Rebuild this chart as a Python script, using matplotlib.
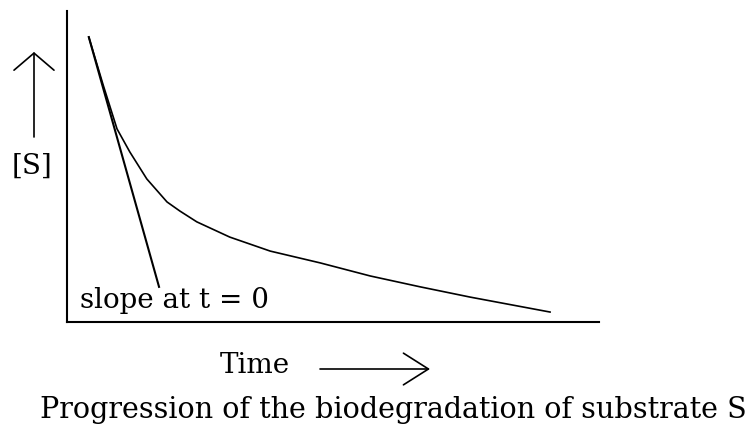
import numpy as np
import matplotlib
matplotlib.use("Agg")
import matplotlib.pyplot as plt

# substrate concentration [S] against time (arbitrary units)
time = [0.41, 0.68, 0.94, 1.18, 1.50, 1.88, 2.12, 2.44, 3.06, 3.82, 4.76, 5.70, 6.64, 7.58, 9.08]
conc = [9.16, 7.62, 6.21, 5.47, 4.60, 3.86, 3.57, 3.22, 2.73, 2.28, 1.90, 1.48, 1.13, 0.80, 0.32]

# tangent at t = 0
tan_t = [0.41, 1.73]
tan_s = [9.16, 1.13]

title = "Progression of the biodegradation of substrate S"
xlabel = "Time"
ylabel = "[S]"
note = "slope at t = 0"

plt.rcParams['font.family'] = ['DejaVu Serif']

W, H = 753, 427
fig = plt.figure(figsize=(W / 100, H / 100), dpi=100)
ax = fig.add_axes([67 / W, (H - 323) / H, 532 / W, 311 / H])
ax.set_xlim(0, 10)
ax.set_ylim(0, 10)
ax.spines['top'].set_visible(False)
ax.spines['right'].set_visible(False)
ax.spines['left'].set_linewidth(1.5)
ax.spines['bottom'].set_linewidth(1.5)
ax.set_xticks([])
ax.set_yticks([])

ax.plot(time, conc, color='black', lw=1.2)
ax.plot(tan_t, tan_s, color='black', lw=1.5)

# labels and arrows (figure pixels, origin bottom-left)
arw_y = dict(arrowstyle='->,head_length=0.41,head_width=0.48', color='black',
             lw=1.2, mutation_scale=30, shrinkA=0, shrinkB=0)
arw_x = dict(arrowstyle='->,head_length=0.6,head_width=0.38', color='black',
             lw=1.2, mutation_scale=30, shrinkA=0, shrinkB=0)
fig.text(32, H - 166, ylabel, transform=None, ha='center', va='center', fontsize=20)
ax.annotate('', xy=(34, H - 53), xytext=(34, H - 138),
            xycoords='figure pixels', textcoords='figure pixels', arrowprops=arw_y)
fig.text(255, H - 373, xlabel, transform=None, ha='center', va='baseline', fontsize=20)
ax.annotate('', xy=(430, H - 370), xytext=(320, H - 370),
            xycoords='figure pixels', textcoords='figure pixels', arrowprops=arw_x)
fig.text(80, H - 308, note, transform=None, ha='left', va='baseline', fontsize=20)
fig.text(393, H - 418, title, transform=None, ha='center', va='baseline', fontsize=20.6)

fig.savefig("out.png", dpi=100)
